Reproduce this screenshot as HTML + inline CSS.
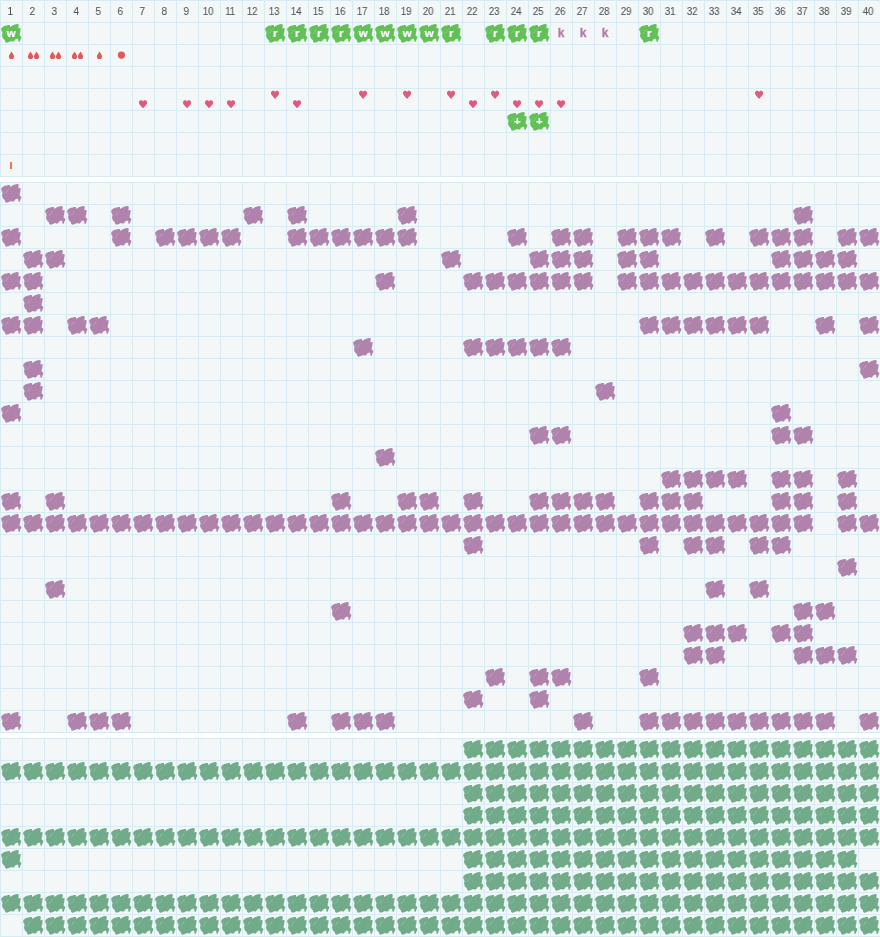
<!DOCTYPE html><html><head><meta charset="utf-8"><style>

html,body{margin:0;padding:0;background:#fff;}
body{width:880px;height:937px;overflow:hidden;position:relative;font-family:"Liberation Sans",sans-serif;}
.sec{position:absolute;left:0;width:880px;background-color:#f3f7f8;
background-image:linear-gradient(to right,#d8eaf2 1px,transparent 1px),linear-gradient(to bottom,#d8eaf2 1px,transparent 1px);
background-size:22px 22px;}
.ov{position:absolute;left:0;top:0;}
.t{position:absolute;width:22px;height:22px;line-height:22px;text-align:center;will-change:transform;}
.h{font-size:11px;color:#4a545a;text-shadow:0 0 1px #fff,0 0 2px #fff;letter-spacing:-0.4px;transform:translateX(-1px) scaleX(0.9);-webkit-text-stroke:0.1px #4a545a;}
.w{font-size:11.5px;font-weight:bold;color:#fff;-webkit-text-stroke:0.2px #fff;transform:translate(0.3px,0.4px);}
.k{font-size:12px;font-weight:bold;color:#b07aa8;-webkit-text-stroke:0.3px #b07aa8;text-shadow:0 0 1px #fff,0 0 2px #fff;}

</style></head><body>
<div class="sec" style="top:0px;height:177px"></div>
<div class="sec" style="top:182px;height:551px"></div>
<div class="sec" style="top:738px;height:199px"></div>
<svg class="ov" width="880" height="937" viewBox="0 0 880 937">
<defs><g id="b"><path d="M1.125,7.25 L1.5,6 L2.75,5 L3.75,4.25 L5,3.75 L6.75,3.6 L8.25,3.1 L9.75,3.1 L10.1,4 L10.25,5.1 L11,4.6 L12,3.75 L13.5,3 L15,2.4 L17,2.1 L18.5,2.25 L18.75,3.75 L18.4,5.75 L18.25,6.6 L19.5,6 L20.5,5.9 L20.6,7.5 L20.25,10 L19.75,11.75 L19.6,13.6 L21,14.6 L21.4,15.5 L20.5,17.5 L19.75,19.75 L18.5,19.75 L18.25,17.5 L17.5,16.5 L15.5,17.25 L14.25,19 L13,19.75 L11.25,19 L10,19.5 L8.25,20.25 L6.5,20.75 L5.25,20 L4.75,18 L3.5,17 L2.5,15.5 L2,13.5 L2.5,11.5 L2.25,10 L1.5,8.75 Z"/><path d="M8.6,7.1 L5.2,11.6 M3.6,8.2 L3.1,9.3" stroke="#fff" stroke-opacity=".3" stroke-width=".7" fill="none"/></g><path id="d" d="M2.6,0 C2.2,1.2 0,3.4 0,4.9 A2.6,2.6 0 0 0 5.2,4.9 C5.2,3.4 3,1.2 2.6,0 Z"/><path id="hh" d="M4.15,8.1 L0.9,4.5 C-0.4,3 -0.2,0.9 1.3,0.25 C2.5,-0.25 3.6,0.3 4.15,1.3 C4.7,0.3 5.8,-0.25 7,0.25 C8.5,0.9 8.7,3 7.4,4.5 Z"/></defs>
<use href="#b" x="0" y="182" fill="#b083ad"/>
<use href="#b" x="44" y="204" fill="#b083ad"/>
<use href="#b" x="66" y="204" fill="#b083ad"/>
<use href="#b" x="110" y="204" fill="#b083ad"/>
<use href="#b" x="242" y="204" fill="#b083ad"/>
<use href="#b" x="286" y="204" fill="#b083ad"/>
<use href="#b" x="396" y="204" fill="#b083ad"/>
<use href="#b" x="792" y="204" fill="#b083ad"/>
<use href="#b" x="0" y="226" fill="#b083ad"/>
<use href="#b" x="110" y="226" fill="#b083ad"/>
<use href="#b" x="154" y="226" fill="#b083ad"/>
<use href="#b" x="176" y="226" fill="#b083ad"/>
<use href="#b" x="198" y="226" fill="#b083ad"/>
<use href="#b" x="220" y="226" fill="#b083ad"/>
<use href="#b" x="286" y="226" fill="#b083ad"/>
<use href="#b" x="308" y="226" fill="#b083ad"/>
<use href="#b" x="330" y="226" fill="#b083ad"/>
<use href="#b" x="352" y="226" fill="#b083ad"/>
<use href="#b" x="374" y="226" fill="#b083ad"/>
<use href="#b" x="396" y="226" fill="#b083ad"/>
<use href="#b" x="506" y="226" fill="#b083ad"/>
<use href="#b" x="550" y="226" fill="#b083ad"/>
<use href="#b" x="572" y="226" fill="#b083ad"/>
<use href="#b" x="616" y="226" fill="#b083ad"/>
<use href="#b" x="638" y="226" fill="#b083ad"/>
<use href="#b" x="660" y="226" fill="#b083ad"/>
<use href="#b" x="704" y="226" fill="#b083ad"/>
<use href="#b" x="748" y="226" fill="#b083ad"/>
<use href="#b" x="770" y="226" fill="#b083ad"/>
<use href="#b" x="792" y="226" fill="#b083ad"/>
<use href="#b" x="836" y="226" fill="#b083ad"/>
<use href="#b" x="858" y="226" fill="#b083ad"/>
<use href="#b" x="22" y="248" fill="#b083ad"/>
<use href="#b" x="44" y="248" fill="#b083ad"/>
<use href="#b" x="440" y="248" fill="#b083ad"/>
<use href="#b" x="528" y="248" fill="#b083ad"/>
<use href="#b" x="550" y="248" fill="#b083ad"/>
<use href="#b" x="572" y="248" fill="#b083ad"/>
<use href="#b" x="616" y="248" fill="#b083ad"/>
<use href="#b" x="638" y="248" fill="#b083ad"/>
<use href="#b" x="770" y="248" fill="#b083ad"/>
<use href="#b" x="792" y="248" fill="#b083ad"/>
<use href="#b" x="814" y="248" fill="#b083ad"/>
<use href="#b" x="836" y="248" fill="#b083ad"/>
<use href="#b" x="0" y="270" fill="#b083ad"/>
<use href="#b" x="22" y="270" fill="#b083ad"/>
<use href="#b" x="374" y="270" fill="#b083ad"/>
<use href="#b" x="462" y="270" fill="#b083ad"/>
<use href="#b" x="484" y="270" fill="#b083ad"/>
<use href="#b" x="506" y="270" fill="#b083ad"/>
<use href="#b" x="528" y="270" fill="#b083ad"/>
<use href="#b" x="550" y="270" fill="#b083ad"/>
<use href="#b" x="572" y="270" fill="#b083ad"/>
<use href="#b" x="616" y="270" fill="#b083ad"/>
<use href="#b" x="638" y="270" fill="#b083ad"/>
<use href="#b" x="660" y="270" fill="#b083ad"/>
<use href="#b" x="682" y="270" fill="#b083ad"/>
<use href="#b" x="704" y="270" fill="#b083ad"/>
<use href="#b" x="726" y="270" fill="#b083ad"/>
<use href="#b" x="748" y="270" fill="#b083ad"/>
<use href="#b" x="770" y="270" fill="#b083ad"/>
<use href="#b" x="792" y="270" fill="#b083ad"/>
<use href="#b" x="814" y="270" fill="#b083ad"/>
<use href="#b" x="836" y="270" fill="#b083ad"/>
<use href="#b" x="858" y="270" fill="#b083ad"/>
<use href="#b" x="22" y="292" fill="#b083ad"/>
<use href="#b" x="0" y="314" fill="#b083ad"/>
<use href="#b" x="22" y="314" fill="#b083ad"/>
<use href="#b" x="66" y="314" fill="#b083ad"/>
<use href="#b" x="88" y="314" fill="#b083ad"/>
<use href="#b" x="638" y="314" fill="#b083ad"/>
<use href="#b" x="660" y="314" fill="#b083ad"/>
<use href="#b" x="682" y="314" fill="#b083ad"/>
<use href="#b" x="704" y="314" fill="#b083ad"/>
<use href="#b" x="726" y="314" fill="#b083ad"/>
<use href="#b" x="748" y="314" fill="#b083ad"/>
<use href="#b" x="814" y="314" fill="#b083ad"/>
<use href="#b" x="858" y="314" fill="#b083ad"/>
<use href="#b" x="352" y="336" fill="#b083ad"/>
<use href="#b" x="462" y="336" fill="#b083ad"/>
<use href="#b" x="484" y="336" fill="#b083ad"/>
<use href="#b" x="506" y="336" fill="#b083ad"/>
<use href="#b" x="528" y="336" fill="#b083ad"/>
<use href="#b" x="550" y="336" fill="#b083ad"/>
<use href="#b" x="22" y="358" fill="#b083ad"/>
<use href="#b" x="858" y="358" fill="#b083ad"/>
<use href="#b" x="22" y="380" fill="#b083ad"/>
<use href="#b" x="594" y="380" fill="#b083ad"/>
<use href="#b" x="0" y="402" fill="#b083ad"/>
<use href="#b" x="770" y="402" fill="#b083ad"/>
<use href="#b" x="528" y="424" fill="#b083ad"/>
<use href="#b" x="550" y="424" fill="#b083ad"/>
<use href="#b" x="770" y="424" fill="#b083ad"/>
<use href="#b" x="792" y="424" fill="#b083ad"/>
<use href="#b" x="374" y="446" fill="#b083ad"/>
<use href="#b" x="660" y="468" fill="#b083ad"/>
<use href="#b" x="682" y="468" fill="#b083ad"/>
<use href="#b" x="704" y="468" fill="#b083ad"/>
<use href="#b" x="726" y="468" fill="#b083ad"/>
<use href="#b" x="770" y="468" fill="#b083ad"/>
<use href="#b" x="792" y="468" fill="#b083ad"/>
<use href="#b" x="836" y="468" fill="#b083ad"/>
<use href="#b" x="0" y="490" fill="#b083ad"/>
<use href="#b" x="44" y="490" fill="#b083ad"/>
<use href="#b" x="330" y="490" fill="#b083ad"/>
<use href="#b" x="396" y="490" fill="#b083ad"/>
<use href="#b" x="418" y="490" fill="#b083ad"/>
<use href="#b" x="462" y="490" fill="#b083ad"/>
<use href="#b" x="528" y="490" fill="#b083ad"/>
<use href="#b" x="550" y="490" fill="#b083ad"/>
<use href="#b" x="572" y="490" fill="#b083ad"/>
<use href="#b" x="594" y="490" fill="#b083ad"/>
<use href="#b" x="638" y="490" fill="#b083ad"/>
<use href="#b" x="660" y="490" fill="#b083ad"/>
<use href="#b" x="682" y="490" fill="#b083ad"/>
<use href="#b" x="770" y="490" fill="#b083ad"/>
<use href="#b" x="792" y="490" fill="#b083ad"/>
<use href="#b" x="836" y="490" fill="#b083ad"/>
<use href="#b" x="0" y="512" fill="#b083ad"/>
<use href="#b" x="22" y="512" fill="#b083ad"/>
<use href="#b" x="44" y="512" fill="#b083ad"/>
<use href="#b" x="66" y="512" fill="#b083ad"/>
<use href="#b" x="88" y="512" fill="#b083ad"/>
<use href="#b" x="110" y="512" fill="#b083ad"/>
<use href="#b" x="132" y="512" fill="#b083ad"/>
<use href="#b" x="154" y="512" fill="#b083ad"/>
<use href="#b" x="176" y="512" fill="#b083ad"/>
<use href="#b" x="198" y="512" fill="#b083ad"/>
<use href="#b" x="220" y="512" fill="#b083ad"/>
<use href="#b" x="242" y="512" fill="#b083ad"/>
<use href="#b" x="264" y="512" fill="#b083ad"/>
<use href="#b" x="286" y="512" fill="#b083ad"/>
<use href="#b" x="308" y="512" fill="#b083ad"/>
<use href="#b" x="330" y="512" fill="#b083ad"/>
<use href="#b" x="352" y="512" fill="#b083ad"/>
<use href="#b" x="374" y="512" fill="#b083ad"/>
<use href="#b" x="396" y="512" fill="#b083ad"/>
<use href="#b" x="418" y="512" fill="#b083ad"/>
<use href="#b" x="440" y="512" fill="#b083ad"/>
<use href="#b" x="462" y="512" fill="#b083ad"/>
<use href="#b" x="484" y="512" fill="#b083ad"/>
<use href="#b" x="506" y="512" fill="#b083ad"/>
<use href="#b" x="528" y="512" fill="#b083ad"/>
<use href="#b" x="550" y="512" fill="#b083ad"/>
<use href="#b" x="572" y="512" fill="#b083ad"/>
<use href="#b" x="594" y="512" fill="#b083ad"/>
<use href="#b" x="616" y="512" fill="#b083ad"/>
<use href="#b" x="638" y="512" fill="#b083ad"/>
<use href="#b" x="660" y="512" fill="#b083ad"/>
<use href="#b" x="682" y="512" fill="#b083ad"/>
<use href="#b" x="704" y="512" fill="#b083ad"/>
<use href="#b" x="726" y="512" fill="#b083ad"/>
<use href="#b" x="748" y="512" fill="#b083ad"/>
<use href="#b" x="770" y="512" fill="#b083ad"/>
<use href="#b" x="792" y="512" fill="#b083ad"/>
<use href="#b" x="836" y="512" fill="#b083ad"/>
<use href="#b" x="858" y="512" fill="#b083ad"/>
<use href="#b" x="462" y="534" fill="#b083ad"/>
<use href="#b" x="638" y="534" fill="#b083ad"/>
<use href="#b" x="682" y="534" fill="#b083ad"/>
<use href="#b" x="704" y="534" fill="#b083ad"/>
<use href="#b" x="748" y="534" fill="#b083ad"/>
<use href="#b" x="770" y="534" fill="#b083ad"/>
<use href="#b" x="836" y="556" fill="#b083ad"/>
<use href="#b" x="44" y="578" fill="#b083ad"/>
<use href="#b" x="704" y="578" fill="#b083ad"/>
<use href="#b" x="748" y="578" fill="#b083ad"/>
<use href="#b" x="330" y="600" fill="#b083ad"/>
<use href="#b" x="792" y="600" fill="#b083ad"/>
<use href="#b" x="814" y="600" fill="#b083ad"/>
<use href="#b" x="682" y="622" fill="#b083ad"/>
<use href="#b" x="704" y="622" fill="#b083ad"/>
<use href="#b" x="726" y="622" fill="#b083ad"/>
<use href="#b" x="770" y="622" fill="#b083ad"/>
<use href="#b" x="792" y="622" fill="#b083ad"/>
<use href="#b" x="682" y="644" fill="#b083ad"/>
<use href="#b" x="704" y="644" fill="#b083ad"/>
<use href="#b" x="792" y="644" fill="#b083ad"/>
<use href="#b" x="814" y="644" fill="#b083ad"/>
<use href="#b" x="836" y="644" fill="#b083ad"/>
<use href="#b" x="484" y="666" fill="#b083ad"/>
<use href="#b" x="528" y="666" fill="#b083ad"/>
<use href="#b" x="550" y="666" fill="#b083ad"/>
<use href="#b" x="638" y="666" fill="#b083ad"/>
<use href="#b" x="462" y="688" fill="#b083ad"/>
<use href="#b" x="528" y="688" fill="#b083ad"/>
<use href="#b" x="0" y="710" fill="#b083ad"/>
<use href="#b" x="66" y="710" fill="#b083ad"/>
<use href="#b" x="88" y="710" fill="#b083ad"/>
<use href="#b" x="110" y="710" fill="#b083ad"/>
<use href="#b" x="286" y="710" fill="#b083ad"/>
<use href="#b" x="330" y="710" fill="#b083ad"/>
<use href="#b" x="352" y="710" fill="#b083ad"/>
<use href="#b" x="374" y="710" fill="#b083ad"/>
<use href="#b" x="572" y="710" fill="#b083ad"/>
<use href="#b" x="638" y="710" fill="#b083ad"/>
<use href="#b" x="660" y="710" fill="#b083ad"/>
<use href="#b" x="682" y="710" fill="#b083ad"/>
<use href="#b" x="704" y="710" fill="#b083ad"/>
<use href="#b" x="726" y="710" fill="#b083ad"/>
<use href="#b" x="748" y="710" fill="#b083ad"/>
<use href="#b" x="770" y="710" fill="#b083ad"/>
<use href="#b" x="792" y="710" fill="#b083ad"/>
<use href="#b" x="814" y="710" fill="#b083ad"/>
<use href="#b" x="858" y="710" fill="#b083ad"/>
<use href="#b" x="462" y="738" fill="#72ab8a"/>
<use href="#b" x="484" y="738" fill="#72ab8a"/>
<use href="#b" x="506" y="738" fill="#72ab8a"/>
<use href="#b" x="528" y="738" fill="#72ab8a"/>
<use href="#b" x="550" y="738" fill="#72ab8a"/>
<use href="#b" x="572" y="738" fill="#72ab8a"/>
<use href="#b" x="594" y="738" fill="#72ab8a"/>
<use href="#b" x="616" y="738" fill="#72ab8a"/>
<use href="#b" x="638" y="738" fill="#72ab8a"/>
<use href="#b" x="660" y="738" fill="#72ab8a"/>
<use href="#b" x="682" y="738" fill="#72ab8a"/>
<use href="#b" x="704" y="738" fill="#72ab8a"/>
<use href="#b" x="726" y="738" fill="#72ab8a"/>
<use href="#b" x="748" y="738" fill="#72ab8a"/>
<use href="#b" x="770" y="738" fill="#72ab8a"/>
<use href="#b" x="792" y="738" fill="#72ab8a"/>
<use href="#b" x="814" y="738" fill="#72ab8a"/>
<use href="#b" x="836" y="738" fill="#72ab8a"/>
<use href="#b" x="858" y="738" fill="#72ab8a"/>
<use href="#b" x="0" y="760" fill="#72ab8a"/>
<use href="#b" x="22" y="760" fill="#72ab8a"/>
<use href="#b" x="44" y="760" fill="#72ab8a"/>
<use href="#b" x="66" y="760" fill="#72ab8a"/>
<use href="#b" x="88" y="760" fill="#72ab8a"/>
<use href="#b" x="110" y="760" fill="#72ab8a"/>
<use href="#b" x="132" y="760" fill="#72ab8a"/>
<use href="#b" x="154" y="760" fill="#72ab8a"/>
<use href="#b" x="176" y="760" fill="#72ab8a"/>
<use href="#b" x="198" y="760" fill="#72ab8a"/>
<use href="#b" x="220" y="760" fill="#72ab8a"/>
<use href="#b" x="242" y="760" fill="#72ab8a"/>
<use href="#b" x="264" y="760" fill="#72ab8a"/>
<use href="#b" x="286" y="760" fill="#72ab8a"/>
<use href="#b" x="308" y="760" fill="#72ab8a"/>
<use href="#b" x="330" y="760" fill="#72ab8a"/>
<use href="#b" x="352" y="760" fill="#72ab8a"/>
<use href="#b" x="374" y="760" fill="#72ab8a"/>
<use href="#b" x="396" y="760" fill="#72ab8a"/>
<use href="#b" x="418" y="760" fill="#72ab8a"/>
<use href="#b" x="440" y="760" fill="#72ab8a"/>
<use href="#b" x="462" y="760" fill="#72ab8a"/>
<use href="#b" x="484" y="760" fill="#72ab8a"/>
<use href="#b" x="506" y="760" fill="#72ab8a"/>
<use href="#b" x="528" y="760" fill="#72ab8a"/>
<use href="#b" x="550" y="760" fill="#72ab8a"/>
<use href="#b" x="572" y="760" fill="#72ab8a"/>
<use href="#b" x="594" y="760" fill="#72ab8a"/>
<use href="#b" x="616" y="760" fill="#72ab8a"/>
<use href="#b" x="638" y="760" fill="#72ab8a"/>
<use href="#b" x="660" y="760" fill="#72ab8a"/>
<use href="#b" x="682" y="760" fill="#72ab8a"/>
<use href="#b" x="704" y="760" fill="#72ab8a"/>
<use href="#b" x="726" y="760" fill="#72ab8a"/>
<use href="#b" x="748" y="760" fill="#72ab8a"/>
<use href="#b" x="770" y="760" fill="#72ab8a"/>
<use href="#b" x="792" y="760" fill="#72ab8a"/>
<use href="#b" x="814" y="760" fill="#72ab8a"/>
<use href="#b" x="836" y="760" fill="#72ab8a"/>
<use href="#b" x="858" y="760" fill="#72ab8a"/>
<use href="#b" x="462" y="782" fill="#72ab8a"/>
<use href="#b" x="484" y="782" fill="#72ab8a"/>
<use href="#b" x="506" y="782" fill="#72ab8a"/>
<use href="#b" x="528" y="782" fill="#72ab8a"/>
<use href="#b" x="550" y="782" fill="#72ab8a"/>
<use href="#b" x="572" y="782" fill="#72ab8a"/>
<use href="#b" x="594" y="782" fill="#72ab8a"/>
<use href="#b" x="616" y="782" fill="#72ab8a"/>
<use href="#b" x="638" y="782" fill="#72ab8a"/>
<use href="#b" x="660" y="782" fill="#72ab8a"/>
<use href="#b" x="682" y="782" fill="#72ab8a"/>
<use href="#b" x="704" y="782" fill="#72ab8a"/>
<use href="#b" x="726" y="782" fill="#72ab8a"/>
<use href="#b" x="748" y="782" fill="#72ab8a"/>
<use href="#b" x="770" y="782" fill="#72ab8a"/>
<use href="#b" x="792" y="782" fill="#72ab8a"/>
<use href="#b" x="814" y="782" fill="#72ab8a"/>
<use href="#b" x="836" y="782" fill="#72ab8a"/>
<use href="#b" x="858" y="782" fill="#72ab8a"/>
<use href="#b" x="462" y="804" fill="#72ab8a"/>
<use href="#b" x="484" y="804" fill="#72ab8a"/>
<use href="#b" x="506" y="804" fill="#72ab8a"/>
<use href="#b" x="528" y="804" fill="#72ab8a"/>
<use href="#b" x="550" y="804" fill="#72ab8a"/>
<use href="#b" x="572" y="804" fill="#72ab8a"/>
<use href="#b" x="594" y="804" fill="#72ab8a"/>
<use href="#b" x="616" y="804" fill="#72ab8a"/>
<use href="#b" x="638" y="804" fill="#72ab8a"/>
<use href="#b" x="660" y="804" fill="#72ab8a"/>
<use href="#b" x="682" y="804" fill="#72ab8a"/>
<use href="#b" x="704" y="804" fill="#72ab8a"/>
<use href="#b" x="726" y="804" fill="#72ab8a"/>
<use href="#b" x="748" y="804" fill="#72ab8a"/>
<use href="#b" x="770" y="804" fill="#72ab8a"/>
<use href="#b" x="792" y="804" fill="#72ab8a"/>
<use href="#b" x="814" y="804" fill="#72ab8a"/>
<use href="#b" x="836" y="804" fill="#72ab8a"/>
<use href="#b" x="858" y="804" fill="#72ab8a"/>
<use href="#b" x="0" y="826" fill="#72ab8a"/>
<use href="#b" x="22" y="826" fill="#72ab8a"/>
<use href="#b" x="44" y="826" fill="#72ab8a"/>
<use href="#b" x="66" y="826" fill="#72ab8a"/>
<use href="#b" x="88" y="826" fill="#72ab8a"/>
<use href="#b" x="110" y="826" fill="#72ab8a"/>
<use href="#b" x="132" y="826" fill="#72ab8a"/>
<use href="#b" x="154" y="826" fill="#72ab8a"/>
<use href="#b" x="176" y="826" fill="#72ab8a"/>
<use href="#b" x="198" y="826" fill="#72ab8a"/>
<use href="#b" x="220" y="826" fill="#72ab8a"/>
<use href="#b" x="242" y="826" fill="#72ab8a"/>
<use href="#b" x="264" y="826" fill="#72ab8a"/>
<use href="#b" x="286" y="826" fill="#72ab8a"/>
<use href="#b" x="308" y="826" fill="#72ab8a"/>
<use href="#b" x="330" y="826" fill="#72ab8a"/>
<use href="#b" x="352" y="826" fill="#72ab8a"/>
<use href="#b" x="374" y="826" fill="#72ab8a"/>
<use href="#b" x="396" y="826" fill="#72ab8a"/>
<use href="#b" x="418" y="826" fill="#72ab8a"/>
<use href="#b" x="440" y="826" fill="#72ab8a"/>
<use href="#b" x="462" y="826" fill="#72ab8a"/>
<use href="#b" x="484" y="826" fill="#72ab8a"/>
<use href="#b" x="506" y="826" fill="#72ab8a"/>
<use href="#b" x="528" y="826" fill="#72ab8a"/>
<use href="#b" x="550" y="826" fill="#72ab8a"/>
<use href="#b" x="572" y="826" fill="#72ab8a"/>
<use href="#b" x="594" y="826" fill="#72ab8a"/>
<use href="#b" x="616" y="826" fill="#72ab8a"/>
<use href="#b" x="638" y="826" fill="#72ab8a"/>
<use href="#b" x="660" y="826" fill="#72ab8a"/>
<use href="#b" x="682" y="826" fill="#72ab8a"/>
<use href="#b" x="704" y="826" fill="#72ab8a"/>
<use href="#b" x="726" y="826" fill="#72ab8a"/>
<use href="#b" x="748" y="826" fill="#72ab8a"/>
<use href="#b" x="770" y="826" fill="#72ab8a"/>
<use href="#b" x="792" y="826" fill="#72ab8a"/>
<use href="#b" x="814" y="826" fill="#72ab8a"/>
<use href="#b" x="836" y="826" fill="#72ab8a"/>
<use href="#b" x="858" y="826" fill="#72ab8a"/>
<use href="#b" x="0" y="848" fill="#72ab8a"/>
<use href="#b" x="462" y="848" fill="#72ab8a"/>
<use href="#b" x="484" y="848" fill="#72ab8a"/>
<use href="#b" x="506" y="848" fill="#72ab8a"/>
<use href="#b" x="528" y="848" fill="#72ab8a"/>
<use href="#b" x="550" y="848" fill="#72ab8a"/>
<use href="#b" x="572" y="848" fill="#72ab8a"/>
<use href="#b" x="594" y="848" fill="#72ab8a"/>
<use href="#b" x="616" y="848" fill="#72ab8a"/>
<use href="#b" x="638" y="848" fill="#72ab8a"/>
<use href="#b" x="660" y="848" fill="#72ab8a"/>
<use href="#b" x="682" y="848" fill="#72ab8a"/>
<use href="#b" x="704" y="848" fill="#72ab8a"/>
<use href="#b" x="726" y="848" fill="#72ab8a"/>
<use href="#b" x="748" y="848" fill="#72ab8a"/>
<use href="#b" x="770" y="848" fill="#72ab8a"/>
<use href="#b" x="792" y="848" fill="#72ab8a"/>
<use href="#b" x="814" y="848" fill="#72ab8a"/>
<use href="#b" x="836" y="848" fill="#72ab8a"/>
<use href="#b" x="462" y="870" fill="#72ab8a"/>
<use href="#b" x="484" y="870" fill="#72ab8a"/>
<use href="#b" x="506" y="870" fill="#72ab8a"/>
<use href="#b" x="528" y="870" fill="#72ab8a"/>
<use href="#b" x="550" y="870" fill="#72ab8a"/>
<use href="#b" x="572" y="870" fill="#72ab8a"/>
<use href="#b" x="594" y="870" fill="#72ab8a"/>
<use href="#b" x="616" y="870" fill="#72ab8a"/>
<use href="#b" x="638" y="870" fill="#72ab8a"/>
<use href="#b" x="660" y="870" fill="#72ab8a"/>
<use href="#b" x="682" y="870" fill="#72ab8a"/>
<use href="#b" x="704" y="870" fill="#72ab8a"/>
<use href="#b" x="726" y="870" fill="#72ab8a"/>
<use href="#b" x="748" y="870" fill="#72ab8a"/>
<use href="#b" x="770" y="870" fill="#72ab8a"/>
<use href="#b" x="792" y="870" fill="#72ab8a"/>
<use href="#b" x="814" y="870" fill="#72ab8a"/>
<use href="#b" x="836" y="870" fill="#72ab8a"/>
<use href="#b" x="858" y="870" fill="#72ab8a"/>
<use href="#b" x="0" y="892" fill="#72ab8a"/>
<use href="#b" x="22" y="892" fill="#72ab8a"/>
<use href="#b" x="44" y="892" fill="#72ab8a"/>
<use href="#b" x="66" y="892" fill="#72ab8a"/>
<use href="#b" x="88" y="892" fill="#72ab8a"/>
<use href="#b" x="110" y="892" fill="#72ab8a"/>
<use href="#b" x="132" y="892" fill="#72ab8a"/>
<use href="#b" x="154" y="892" fill="#72ab8a"/>
<use href="#b" x="176" y="892" fill="#72ab8a"/>
<use href="#b" x="198" y="892" fill="#72ab8a"/>
<use href="#b" x="220" y="892" fill="#72ab8a"/>
<use href="#b" x="242" y="892" fill="#72ab8a"/>
<use href="#b" x="264" y="892" fill="#72ab8a"/>
<use href="#b" x="286" y="892" fill="#72ab8a"/>
<use href="#b" x="308" y="892" fill="#72ab8a"/>
<use href="#b" x="330" y="892" fill="#72ab8a"/>
<use href="#b" x="352" y="892" fill="#72ab8a"/>
<use href="#b" x="374" y="892" fill="#72ab8a"/>
<use href="#b" x="396" y="892" fill="#72ab8a"/>
<use href="#b" x="418" y="892" fill="#72ab8a"/>
<use href="#b" x="440" y="892" fill="#72ab8a"/>
<use href="#b" x="462" y="892" fill="#72ab8a"/>
<use href="#b" x="484" y="892" fill="#72ab8a"/>
<use href="#b" x="506" y="892" fill="#72ab8a"/>
<use href="#b" x="528" y="892" fill="#72ab8a"/>
<use href="#b" x="550" y="892" fill="#72ab8a"/>
<use href="#b" x="572" y="892" fill="#72ab8a"/>
<use href="#b" x="594" y="892" fill="#72ab8a"/>
<use href="#b" x="616" y="892" fill="#72ab8a"/>
<use href="#b" x="638" y="892" fill="#72ab8a"/>
<use href="#b" x="660" y="892" fill="#72ab8a"/>
<use href="#b" x="682" y="892" fill="#72ab8a"/>
<use href="#b" x="704" y="892" fill="#72ab8a"/>
<use href="#b" x="726" y="892" fill="#72ab8a"/>
<use href="#b" x="748" y="892" fill="#72ab8a"/>
<use href="#b" x="770" y="892" fill="#72ab8a"/>
<use href="#b" x="792" y="892" fill="#72ab8a"/>
<use href="#b" x="814" y="892" fill="#72ab8a"/>
<use href="#b" x="836" y="892" fill="#72ab8a"/>
<use href="#b" x="858" y="892" fill="#72ab8a"/>
<use href="#b" x="22" y="914" fill="#72ab8a"/>
<use href="#b" x="44" y="914" fill="#72ab8a"/>
<use href="#b" x="66" y="914" fill="#72ab8a"/>
<use href="#b" x="88" y="914" fill="#72ab8a"/>
<use href="#b" x="110" y="914" fill="#72ab8a"/>
<use href="#b" x="132" y="914" fill="#72ab8a"/>
<use href="#b" x="154" y="914" fill="#72ab8a"/>
<use href="#b" x="176" y="914" fill="#72ab8a"/>
<use href="#b" x="198" y="914" fill="#72ab8a"/>
<use href="#b" x="220" y="914" fill="#72ab8a"/>
<use href="#b" x="242" y="914" fill="#72ab8a"/>
<use href="#b" x="264" y="914" fill="#72ab8a"/>
<use href="#b" x="286" y="914" fill="#72ab8a"/>
<use href="#b" x="308" y="914" fill="#72ab8a"/>
<use href="#b" x="330" y="914" fill="#72ab8a"/>
<use href="#b" x="352" y="914" fill="#72ab8a"/>
<use href="#b" x="374" y="914" fill="#72ab8a"/>
<use href="#b" x="396" y="914" fill="#72ab8a"/>
<use href="#b" x="418" y="914" fill="#72ab8a"/>
<use href="#b" x="440" y="914" fill="#72ab8a"/>
<use href="#b" x="462" y="914" fill="#72ab8a"/>
<use href="#b" x="484" y="914" fill="#72ab8a"/>
<use href="#b" x="506" y="914" fill="#72ab8a"/>
<use href="#b" x="528" y="914" fill="#72ab8a"/>
<use href="#b" x="550" y="914" fill="#72ab8a"/>
<use href="#b" x="572" y="914" fill="#72ab8a"/>
<use href="#b" x="594" y="914" fill="#72ab8a"/>
<use href="#b" x="616" y="914" fill="#72ab8a"/>
<use href="#b" x="638" y="914" fill="#72ab8a"/>
<use href="#b" x="660" y="914" fill="#72ab8a"/>
<use href="#b" x="682" y="914" fill="#72ab8a"/>
<use href="#b" x="704" y="914" fill="#72ab8a"/>
<use href="#b" x="726" y="914" fill="#72ab8a"/>
<use href="#b" x="748" y="914" fill="#72ab8a"/>
<use href="#b" x="770" y="914" fill="#72ab8a"/>
<use href="#b" x="792" y="914" fill="#72ab8a"/>
<use href="#b" x="814" y="914" fill="#72ab8a"/>
<use href="#b" x="836" y="914" fill="#72ab8a"/>
<use href="#b" x="858" y="914" fill="#72ab8a"/>
<use href="#b" x="0" y="22" fill="#62c156"/>
<use href="#b" x="264" y="22" fill="#62c156"/>
<use href="#b" x="286" y="22" fill="#62c156"/>
<use href="#b" x="308" y="22" fill="#62c156"/>
<use href="#b" x="330" y="22" fill="#62c156"/>
<use href="#b" x="352" y="22" fill="#62c156"/>
<use href="#b" x="374" y="22" fill="#62c156"/>
<use href="#b" x="396" y="22" fill="#62c156"/>
<use href="#b" x="418" y="22" fill="#62c156"/>
<use href="#b" x="440" y="22" fill="#62c156"/>
<use href="#b" x="484" y="22" fill="#62c156"/>
<use href="#b" x="506" y="22" fill="#62c156"/>
<use href="#b" x="528" y="22" fill="#62c156"/>
<use href="#b" x="638" y="22" fill="#62c156"/>
<use href="#b" x="506" y="110" fill="#62c156"/>
<use href="#b" x="528" y="110" fill="#62c156"/>
<use href="#d" x="8.90" y="51.5" fill="#e05a5a"/>
<use href="#d" x="27.90" y="51.5" fill="#e05a5a"/>
<use href="#d" x="33.90" y="51.5" fill="#e05a5a"/>
<use href="#d" x="49.90" y="51.5" fill="#e05a5a"/>
<use href="#d" x="55.90" y="51.5" fill="#e05a5a"/>
<use href="#d" x="71.90" y="51.5" fill="#e05a5a"/>
<use href="#d" x="77.90" y="51.5" fill="#e05a5a"/>
<use href="#d" x="96.90" y="51.5" fill="#e05a5a"/>
<circle cx="121.4" cy="55.1" r="3.6" fill="#e05a5a"/>
<use href="#hh" x="138.90" y="100.2" fill="#e05a80"/>
<use href="#hh" x="182.90" y="100.2" fill="#e05a80"/>
<use href="#hh" x="204.90" y="100.2" fill="#e05a80"/>
<use href="#hh" x="226.90" y="100.2" fill="#e05a80"/>
<use href="#hh" x="292.90" y="100.2" fill="#e05a80"/>
<use href="#hh" x="468.90" y="100.2" fill="#e05a80"/>
<use href="#hh" x="512.90" y="100.2" fill="#e05a80"/>
<use href="#hh" x="534.90" y="100.2" fill="#e05a80"/>
<use href="#hh" x="556.90" y="100.2" fill="#e05a80"/>
<use href="#hh" x="270.90" y="90.8" fill="#e05a80"/>
<use href="#hh" x="358.90" y="90.8" fill="#e05a80"/>
<use href="#hh" x="402.90" y="90.8" fill="#e05a80"/>
<use href="#hh" x="446.90" y="90.8" fill="#e05a80"/>
<use href="#hh" x="490.90" y="90.8" fill="#e05a80"/>
<use href="#hh" x="754.90" y="90.8" fill="#e05a80"/>
<rect x="10" y="162" width="2" height="7" fill="#f0784a"/>
</svg>
<div class="t h" style="left:0px;top:0px">1</div>
<div class="t h" style="left:22px;top:0px">2</div>
<div class="t h" style="left:44px;top:0px">3</div>
<div class="t h" style="left:66px;top:0px">4</div>
<div class="t h" style="left:88px;top:0px">5</div>
<div class="t h" style="left:110px;top:0px">6</div>
<div class="t h" style="left:132px;top:0px">7</div>
<div class="t h" style="left:154px;top:0px">8</div>
<div class="t h" style="left:176px;top:0px">9</div>
<div class="t h" style="left:198px;top:0px">10</div>
<div class="t h" style="left:220px;top:0px">11</div>
<div class="t h" style="left:242px;top:0px">12</div>
<div class="t h" style="left:264px;top:0px">13</div>
<div class="t h" style="left:286px;top:0px">14</div>
<div class="t h" style="left:308px;top:0px">15</div>
<div class="t h" style="left:330px;top:0px">16</div>
<div class="t h" style="left:352px;top:0px">17</div>
<div class="t h" style="left:374px;top:0px">18</div>
<div class="t h" style="left:396px;top:0px">19</div>
<div class="t h" style="left:418px;top:0px">20</div>
<div class="t h" style="left:440px;top:0px">21</div>
<div class="t h" style="left:462px;top:0px">22</div>
<div class="t h" style="left:484px;top:0px">23</div>
<div class="t h" style="left:506px;top:0px">24</div>
<div class="t h" style="left:528px;top:0px">25</div>
<div class="t h" style="left:550px;top:0px">26</div>
<div class="t h" style="left:572px;top:0px">27</div>
<div class="t h" style="left:594px;top:0px">28</div>
<div class="t h" style="left:616px;top:0px">29</div>
<div class="t h" style="left:638px;top:0px">30</div>
<div class="t h" style="left:660px;top:0px">31</div>
<div class="t h" style="left:682px;top:0px">32</div>
<div class="t h" style="left:704px;top:0px">33</div>
<div class="t h" style="left:726px;top:0px">34</div>
<div class="t h" style="left:748px;top:0px">35</div>
<div class="t h" style="left:770px;top:0px">36</div>
<div class="t h" style="left:792px;top:0px">37</div>
<div class="t h" style="left:814px;top:0px">38</div>
<div class="t h" style="left:836px;top:0px">39</div>
<div class="t h" style="left:858px;top:0px">40</div>
<div class="t w" style="left:0px;top:22px">w</div>
<div class="t w" style="left:264px;top:22px">r</div>
<div class="t w" style="left:286px;top:22px">r</div>
<div class="t w" style="left:308px;top:22px">r</div>
<div class="t w" style="left:330px;top:22px">r</div>
<div class="t w" style="left:352px;top:22px">w</div>
<div class="t w" style="left:374px;top:22px">w</div>
<div class="t w" style="left:396px;top:22px">w</div>
<div class="t w" style="left:418px;top:22px">w</div>
<div class="t w" style="left:440px;top:22px">r</div>
<div class="t w" style="left:484px;top:22px">r</div>
<div class="t w" style="left:506px;top:22px">r</div>
<div class="t w" style="left:528px;top:22px">r</div>
<div class="t w" style="left:638px;top:22px">r</div>
<div class="t k" style="left:550px;top:22px">k</div>
<div class="t k" style="left:572px;top:22px">k</div>
<div class="t k" style="left:594px;top:22px">k</div>
<div class="t w" style="left:506px;top:110px">+</div>
<div class="t w" style="left:528px;top:110px">+</div>
</body></html>
